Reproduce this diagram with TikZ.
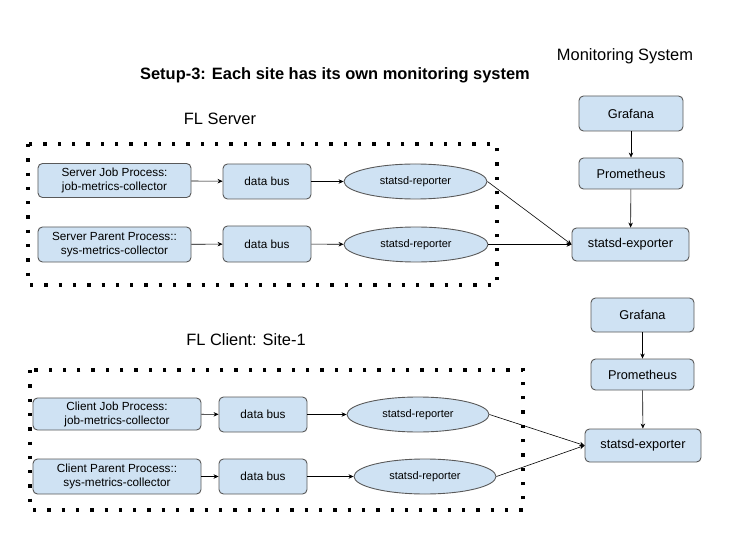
\documentclass[tikz,border=0pt]{standalone}
\usepackage{fontspec}
\setmainfont{Liberation Sans}
\usetikzlibrary{shapes.geometric,arrows.meta}
\definecolor{boxfill}{HTML}{CFE2F3}
\definecolor{boxline}{HTML}{595959}
\tikzset{
  box/.style={draw=boxline, line width=0.9pt, fill=boxfill, rounded corners=4.5pt, align=center, inner sep=0pt, font=\fontsize{11.8}{14}\selectfont},
  mbox/.style={box, font=\fontsize{12.8}{15}\selectfont},
  ell/.style={draw=boxline, line width=0.9pt, fill=boxfill, ellipse, inner sep=0pt, font=\fontsize{11}{13}\selectfont},
  conn/.style={-{Stealth[length=5bp,width=4.5bp]}, line width=0.6pt, black},
  dotbox/.style={draw=black, line width=3.3bp, dash pattern=on 3.3bp off 11bp},
  head/.style={font=\fontsize{16.5}{19}\selectfont},
}
\begin{document}
\begin{tikzpicture}[x=1bp,y=-1bp]
\useasboundingbox (0,0) rectangle (743,548);
% titles
\node[head, font=\fontsize{16.5}{19}\selectfont\bfseries] (title) at (335,75.5) {Setup-3: Each site has its own monitoring system};
\node[head] (mon) at (625,56) {Monitoring System};
\node[head] (fls) at (220,119) {FL Server};
\node[head] (flc) at (246,340) {FL Client: Site-1};
% dotted boxes
\draw[dotbox] (28,144) rectangle (497,285);
\draw[dotbox] (30,370) rectangle (523,510);
% server
\node[box, minimum width=153bp, minimum height=34bp] (sj) at (114.5,180.5) {Server Job Process:\\job-metrics-collector};
\node[box, minimum width=88bp, minimum height=35bp] (db1) at (267,181.5) {data bus};
\node[ell, minimum width=143bp, minimum height=35bp] (r1) at (415.5,181.5) {statsd-reporter};
\node[box, minimum width=153bp, minimum height=35bp] (sp) at (114.5,244.5) {Server Parent Process::\\sys-metrics-collector};
\node[box, minimum width=88bp, minimum height=36bp] (db2) at (267,244) {data bus};
\node[ell, minimum width=144bp, minimum height=35bp] (r2) at (416,244.5) {statsd-reporter};
% monitoring 1
\node[mbox, minimum width=104bp, minimum height=35bp] (g1) at (631,113.5) {Grafana};
\node[mbox, minimum width=104bp, minimum height=31bp] (p1) at (631,173.5) {Prometheus};
\node[mbox, minimum width=117bp, minimum height=33bp] (e1) at (630.5,244.5) {statsd-exporter};
% client
\node[box, minimum width=168bp, minimum height=32bp] (cj) at (117,414) {Client Job Process:\\job-metrics-collector};
\node[box, minimum width=88bp, minimum height=35bp] (db3) at (263,414.5) {data bus};
\node[ell, minimum width=142bp, minimum height=35bp] (r3) at (418,414.5) {statsd-reporter};
\node[box, minimum width=168bp, minimum height=35bp] (cp) at (117,476.5) {Client Parent Process::\\sys-metrics-collector};
\node[box, minimum width=88bp, minimum height=35bp] (db4) at (263,476.5) {data bus};
\node[ell, minimum width=142bp, minimum height=35bp] (r4) at (425,476.5) {statsd-reporter};
% monitoring 2
\node[mbox, minimum width=103bp, minimum height=34bp] (g2) at (642.5,315) {Grafana};
\node[mbox, minimum width=103bp, minimum height=31bp] (p2) at (642.5,374.5) {Prometheus};
\node[mbox, minimum width=116bp, minimum height=33bp] (e2) at (643,445.5) {statsd-exporter};
% connectors
\draw[conn] (sj) -- (db1);
\draw[conn] (db1) -- (r1);
\draw[conn] (sp) -- (db2);
\draw[conn] (db2) -- (r2);
\draw[conn] (r1.east) -- (e1.west);
\draw[conn] (r2.east) -- (e1.west);
\draw[conn] (g1) -- (p1);
\draw[conn] (p1) -- (e1);
\draw[conn] (cj) -- (db3);
\draw[conn] (db3) -- (r3);
\draw[conn] (cp) -- (db4);
\draw[conn] (db4) -- (r4);
\draw[conn] (r3.east) -- (e2.west);
\draw[conn] (r4.east) -- (e2.west);
\draw[conn] (g2) -- (p2);
\draw[conn] (p2) -- (e2);
\end{tikzpicture}
\end{document}
